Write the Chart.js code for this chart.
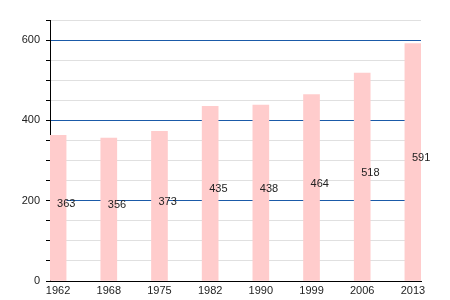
<!DOCTYPE html>
<html>
<head>
    <title>Population</title>
    <script src="https://cdn.jsdelivr.net/npm/chart.js"></script>
    <style>
        body { margin: 0; background: #fff; }
        #graph { display: block; }
    </style>
</head>
<body>
    <canvas id="graph" width="450" height="300"></canvas>

    <script>
        const years = ['1962', '1968', '1975', '1982', '1990', '1999', '2006', '2013'];
        const population = [363, 356, 373, 435, 438, 464, 518, 591];
        const yLabels = [0, 200, 400, 600];

        const FONT = '"Liberation Sans", Arial, sans-serif';

        // value labels, left-aligned from bar centre, half way up the bar
        const valueLabels = {
            id: 'valueLabels',
            afterDatasetsDraw(chart) {
                const c = chart.ctx;
                const meta = chart.getDatasetMeta(0);
                c.save();
                c.font = '11px ' + FONT;
                c.fillStyle = '#222';
                c.textAlign = 'left';
                c.textBaseline = 'middle';
                meta.data.forEach((bar, i) => {
                    c.fillText(population[i], bar.x - 1, (bar.y + bar.base) / 2 - 4);
                });
                c.restore();
            }
        };

        const ctx = document.getElementById('graph').getContext('2d');

        new Chart(ctx, {
            type: 'bar',
            data: {
                datasets: [{
                    data: population.map((v, i) => ({ x: i, y: v })),
                    backgroundColor: '#ffcccc',
                    barThickness: 16
                }]
            },
            plugins: [valueLabels],
            options: {
                responsive: false,
                devicePixelRatio: 1,
                animation: false,
                layout: { padding: { top: 20, right: 29, left: 0, bottom: 0 } },
                plugins: {
                    legend: { display: false },
                    tooltip: { enabled: false }
                },
                scales: {
                    x: {
                        type: 'linear',
                        offset: false,
                        min: -0.16,
                        max: 7.16,
                        afterBuildTicks: (axis) => {
                            axis.ticks = years.map((_, i) => ({ value: i }));
                        },
                        afterFit: (axis) => { axis.height = 19; },
                        grid: { display: false, drawTicks: false },
                        border: { color: '#000', width: 1 },
                        ticks: {
                            autoSkip: false,
                            maxRotation: 0,
                            padding: 3,
                            color: '#222',
                            font: { family: FONT, size: 11 },
                            callback: (v) => years[v]
                        }
                    },
                    y: {
                        min: 0,
                        max: 650,
                        afterFit: (axis) => { axis.width = 50; },
                        grid: {
                            color: (c) => (c.tick.value % 200 === 0 ? '#1a5aa8' : '#e0e0e0'),
                            tickColor: '#000',
                            tickLength: 4
                        },
                        border: { color: '#000', width: 1 },
                        ticks: {
                            stepSize: 50,
                            autoSkip: false,
                            padding: 6,
                            color: '#222',
                            font: { family: FONT, size: 11 },
                            callback: (v) => (yLabels.includes(v) ? v : '')
                        }
                    }
                }
            }
        });
    </script>
</body>
</html>
